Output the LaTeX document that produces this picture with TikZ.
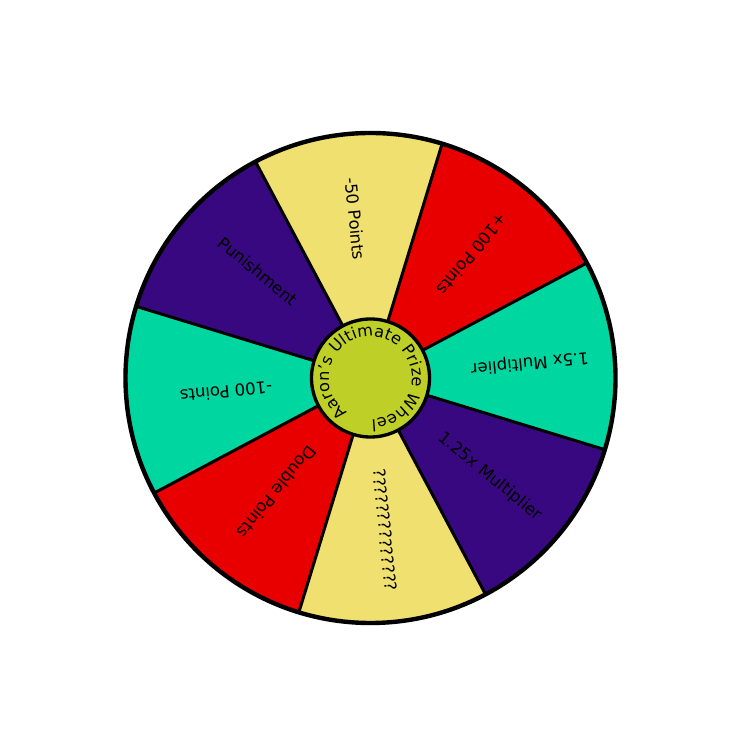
\documentclass[tikz,border=0pt]{standalone}
\usepackage{fontspec}
\setmainfont{DejaVu Sans}
\usetikzlibrary{calc,decorations.text,positioning}
\definecolor{wheelyellow}{RGB}{240,224,112}
\definecolor{wheelred}{RGB}{232,0,0}
\definecolor{wheelteal}{RGB}{0,214,160}
\definecolor{wheelpurple}{RGB}{56,8,128}
\definecolor{hubgreen}{RGB}{190,208,40}
\tikzset{
  spoke/.style={
    draw=black,
    line width=1.7pt
  },
  rim/.style={
    draw=black,
    line width=2.5pt
  },
  prize/.style={
    font=\fontsize{9.4}{11}\selectfont,
    inner sep=0pt
  },
  hub/.style={
    circle,
    draw=black,
    line width=1.9pt,
    fill=hubgreen,
    minimum size=2.36cm,
    inner sep=0pt
  }
}

\begin{document}
\begin{tikzpicture}
\useasboundingbox (0,0) rectangle (14.98,14.98);
\coordinate (c) at (7.41,7.42);
% sectors
\fill[wheelred] (c) -- ++(28:4.9) arc[start angle=28, end angle=73, radius=4.9] -- cycle;
\fill[wheelyellow] (c) -- ++(73:4.9) arc[start angle=73, end angle=118, radius=4.9] -- cycle;
\fill[wheelpurple] (c) -- ++(118:4.9) arc[start angle=118, end angle=163, radius=4.9] -- cycle;
\fill[wheelteal] (c) -- ++(163:4.9) arc[start angle=163, end angle=208, radius=4.9] -- cycle;
\fill[wheelred] (c) -- ++(208:4.9) arc[start angle=208, end angle=253, radius=4.9] -- cycle;
\fill[wheelyellow] (c) -- ++(253:4.9) arc[start angle=253, end angle=298, radius=4.9] -- cycle;
\fill[wheelpurple] (c) -- ++(298:4.9) arc[start angle=298, end angle=343, radius=4.9] -- cycle;
\fill[wheelteal] (c) -- ++(343:4.9) arc[start angle=343, end angle=388, radius=4.9] -- cycle;
\draw[spoke] (c) -- ++(28:4.9);
\draw[spoke] (c) -- ++(73:4.9);
\draw[spoke] (c) -- ++(118:4.9);
\draw[spoke] (c) -- ++(163:4.9);
\draw[spoke] (c) -- ++(208:4.9);
\draw[spoke] (c) -- ++(253:4.9);
\draw[spoke] (c) -- ++(298:4.9);
\draw[spoke] (c) -- ++(343:4.9);
\draw[rim] (c) circle[radius=4.9];
% labels
\node[prize,rotate=-84.5] (minusfifty) at ($(c)+(95.5:3.2)$) {-50 Points};
\node[prize,rotate=230.5] (plushundred) at ($(c)+(50.5:3.2)$) {+100 Points};
\node[prize,rotate=185.5] (onefive) at ($(c)+(5.5:3.2)$) {1.5x Multiplier};
\node[prize,rotate=-39.5] (onetwentyfive) at ($(c)+(-39.5:3.1)$) {1.25x Multiplier};
\node[prize,rotate=-84.5] (mystery) at ($(c)+(-84.5:3.05)$) {??????????????};
\node[prize,rotate=-129.5] (double) at ($(c)+(-129.5:2.95)$) {Double Points};
\node[prize,rotate=185.5] (minushundred) at ($(c)+(185.5:2.9)$) {-100 Points};
\node[prize,rotate=-39.5] (punish) at ($(c)+(136.5:3.1)$) {Punishment};
% hub
\node[hub] (centre) at (c) {};
\path[decorate,decoration={text along path,text align=center,
  text={|\fontsize{9.2}{11}\selectfont|Aaron's Ultimate Prize Wheel}}]
  (c) ++(234:0.83) arc[start angle=234, end angle=-86, radius=0.83];
\end{tikzpicture}
\end{document}
